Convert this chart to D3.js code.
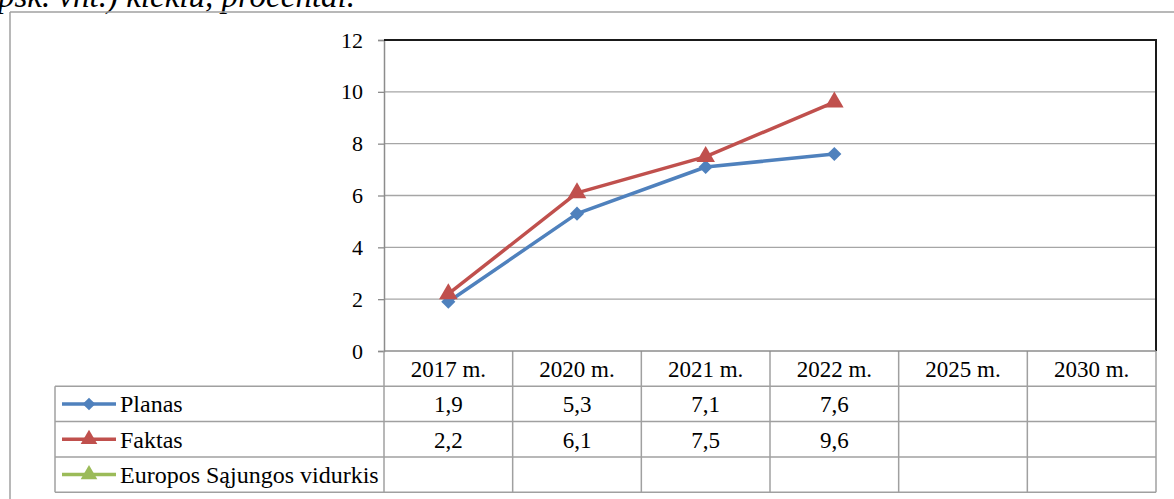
<!DOCTYPE html>
<html>
<head>
<meta charset="utf-8">
<script src="https://cdn.jsdelivr.net/npm/d3@7"></script>
<style>
  body { margin: 0; background: #fff; }
</style>
</head>
<body>
<div id="chart"></div>
<script>
// chart data
var categories = ["2017 m.", "2020 m.", "2021 m.", "2022 m.", "2025 m.", "2030 m."];
var planas = [1.9, 5.3, 7.1, 7.6, null, null];
var faktas = [2.2, 6.1, 7.5, 9.6, null, null];
var esVidurkis = [null, null, null, null, null, null];
var yTicks = [0, 2, 4, 6, 8, 10, 12];

var series = [
    { name: "Planas", values: planas, color: "#4F81BD", marker: "diamond" },
    { name: "Faktas", values: faktas, color: "#C0504D", marker: "triangle" },
    { name: "Europos Sąjungos vidurkis", values: esVidurkis, color: "#9BBB59", marker: "triangle" }
];

var W = 1174, H = 499;
var margin = { top: 40, right: 18, left: 384 };
var plotBottom = 351;
var rowH = 35.3;
var legendLeft = 55;
var serif = "'Liberation Serif', 'Times New Roman', serif";
var fontSize = "23px";

var svg = d3.select("#chart").append("svg")
    .attr("width", W)
    .attr("height", H);

// cut-off caption text and outer frame
svg.append("text")
    .attr("x", 355)
    .attr("y", 7)
    .attr("text-anchor", "end")
    .style("font-family", serif)
    .style("font-style", "italic")
    .style("font-size", "33px")
    .attr("fill", "#000")
    .text("(apsk. vnt.) kiekiu, procentai.");

svg.append("line")
    .attr("x1", 10).attr("x2", W)
    .attr("y1", 12).attr("y2", 12)
    .attr("stroke", "#a0a0a0").attr("stroke-width", 1.5);
svg.append("line")
    .attr("x1", 10).attr("x2", 10)
    .attr("y1", 12).attr("y2", H)
    .attr("stroke", "#a0a0a0").attr("stroke-width", 1.5);

var xscale = d3.scaleBand()
    .domain(categories)
    .range([margin.left, W - margin.right]);

var yscale = d3.scaleLinear()
    .domain([0, 12])
    .range([plotBottom, margin.top]);

// gridlines
svg.append("g").selectAll("line")
    .data(yTicks.slice(1, -1))
    .enter().append("line")
    .attr("x1", margin.left).attr("x2", W - margin.right)
    .attr("y1", function(d) { return yscale(d); })
    .attr("y2", function(d) { return yscale(d); })
    .attr("stroke", "#a6a6a6").attr("stroke-width", 1.3);

// y axis
var yAxis = svg.append("g")
    .attr("transform", "translate(" + margin.left + ",0)")
    .call(d3.axisLeft(yscale).tickValues(yTicks).tickSize(6).tickPadding(15).tickFormat(d3.format("d")));
yAxis.select(".domain").attr("stroke", "#8c8c8c").attr("stroke-width", 1.5);
yAxis.selectAll(".tick line").attr("stroke", "#8c8c8c").attr("stroke-width", 1.3);
yAxis.selectAll(".tick text")
    .style("font-family", serif)
    .style("font-size", "22px")
    .attr("fill", "#000");

// top and right border of plot area
svg.append("path")
    .attr("d", "M" + margin.left + "," + margin.top + "H" + (W - margin.right) + "V" + plotBottom)
    .attr("fill", "none").attr("stroke", "#1a1a1a").attr("stroke-width", 2);

// data table
var tableBottom = plotBottom + rowH * 4;
var tbl = svg.append("g");
var gridColor = "#a0a0a0";

// vertical lines between categories
var xEdges = categories.map(function(c) { return xscale(c); }).concat([W - margin.right]);
tbl.selectAll("line.v")
    .data(xEdges)
    .enter().append("line")
    .attr("class", "v")
    .attr("x1", function(d) { return d; }).attr("x2", function(d) { return d; })
    .attr("y1", plotBottom).attr("y2", tableBottom)
    .attr("stroke", gridColor).attr("stroke-width", 1.5);

// horizontal lines
var rowEdges = [1, 2, 3, 4];
tbl.selectAll("line.h")
    .data(rowEdges)
    .enter().append("line")
    .attr("class", "h")
    .attr("x1", legendLeft).attr("x2", W - margin.right)
    .attr("y1", function(d) { return plotBottom + d * rowH; })
    .attr("y2", function(d) { return plotBottom + d * rowH; })
    .attr("stroke", gridColor).attr("stroke-width", 1.5);
tbl.append("line")
    .attr("x1", legendLeft).attr("x2", legendLeft)
    .attr("y1", plotBottom + rowH).attr("y2", tableBottom)
    .attr("stroke", gridColor).attr("stroke-width", 1.5);
// x axis line
tbl.append("line")
    .attr("x1", margin.left).attr("x2", W - margin.right)
    .attr("y1", plotBottom).attr("y2", plotBottom)
    .attr("stroke", "#8c8c8c").attr("stroke-width", 1.5);

// category labels
tbl.selectAll("text.cat")
    .data(categories)
    .enter().append("text")
    .attr("class", "cat")
    .attr("x", function(d) { return xscale(d) + xscale.bandwidth() / 2; })
    .attr("y", plotBottom + 26)
    .attr("text-anchor", "middle")
    .style("font-family", serif)
    .style("font-size", fontSize)
    .text(function(d) { return d; });

var fmt = function(v) { return v == null ? "" : String(v).replace(".", ","); };

function markerPath(type, size) {
    var sym = type === "diamond" ? d3.symbolSquare : d3.symbolTriangle;
    return d3.symbol().type(sym).size(size)();
}

series.forEach(function(s, si) {
    var rowY = plotBottom + (si + 1) * rowH;
    var cy = rowY + rowH / 2;

    // values in table
    tbl.selectAll("text.val" + si)
        .data(s.values)
        .enter().append("text")
        .attr("x", function(d, i) { return xscale(categories[i]) + xscale.bandwidth() / 2; })
        .attr("y", rowY + 26)
        .attr("text-anchor", "middle")
        .style("font-family", serif)
        .style("font-size", fontSize)
        .text(fmt);

    // legend key
    tbl.append("line")
        .attr("x1", legendLeft + 7).attr("x2", legendLeft + 61)
        .attr("y1", cy).attr("y2", cy)
        .attr("stroke", s.color).attr("stroke-width", 3.5);
    tbl.append("path")
        .attr("d", markerPath(s.marker, s.marker === "diamond" ? 80 : 120))
        .attr("transform", "translate(" + (legendLeft + 34) + "," + cy + ")" + (s.marker === "diamond" ? " rotate(45)" : ""))
        .attr("fill", s.color);
    tbl.append("text")
        .attr("x", legendLeft + 65)
        .attr("y", rowY + 26)
        .style("font-family", serif)
        .style("font-size", "24px")
        .text(s.name);

    // line in plot
    var line = d3.line()
        .defined(function(d) { return d != null; })
        .x(function(d, i) { return xscale(categories[i]) + xscale.bandwidth() / 2; })
        .y(function(d) { return yscale(d); });

    svg.append("path")
        .datum(s.values)
        .attr("d", line)
        .attr("fill", "none")
        .attr("stroke", s.color)
        .attr("stroke-width", 3.5)
        .attr("stroke-linejoin", "round");

    svg.selectAll("path.m" + si)
        .data(s.values.map(function(v, i) { return { v: v, i: i }; }).filter(function(d) { return d.v != null; }))
        .enter().append("path")
        .attr("d", markerPath(s.marker, s.marker === "diamond" ? 100 : 150))
        .attr("transform", function(d) {
            var x = xscale(categories[d.i]) + xscale.bandwidth() / 2;
            return "translate(" + x + "," + yscale(d.v) + ")" + (s.marker === "diamond" ? " rotate(45)" : "");
        })
        .attr("fill", s.color);
});
</script>
</body>
</html>
